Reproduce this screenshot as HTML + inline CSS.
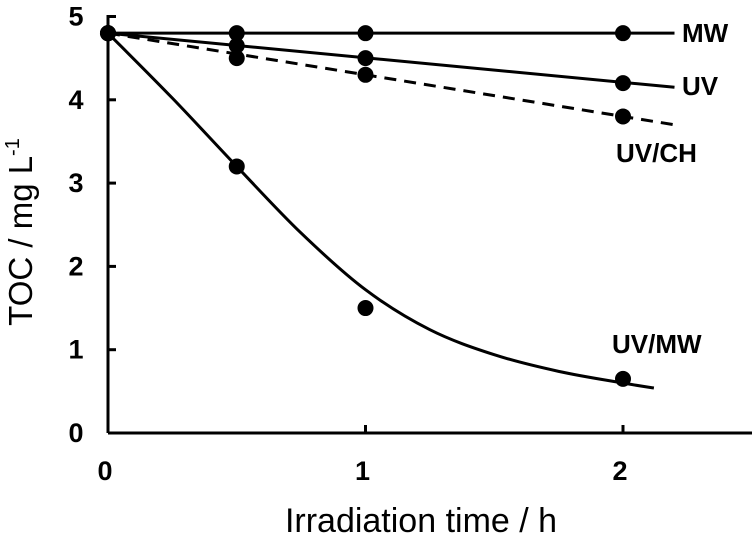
<!DOCTYPE html>
<html><head><meta charset="utf-8"><style>
html,body{margin:0;padding:0;background:#fff}
svg{display:block;font-family:"Liberation Sans",Arial,sans-serif}
</style></head><body>
<svg id="c" width="756" height="537" viewBox="0 0 756 537"></svg>
<script>
const xTicks=[0,1,2];
const yTicks=[0,1,2,3,4,5];
const ptX=[0,0.5,1,2];
const mwVals=[4.8,4.8,4.8,4.8];
const uvVals=[4.8,4.65,4.5,4.2];
const uvchVals=[4.8,4.5,4.3,3.8];
const uvmwVals=[4.8,3.2,1.5,0.65];
const fitLinX=[0,2.2];
const mwFit=[4.8,4.8];
const uvFit=[4.8,4.15];
const uvchFit=[4.8,3.7];
const uvmwFitX=[0,0.25,0.5,0.75,1,1.25,1.5,1.75,2,2.12];
const uvmwFit=[4.8,4.02,3.2,2.4,1.72,1.24,0.94,0.74,0.6,0.54];
const NS="http://www.w3.org/2000/svg";
const svg=document.getElementById('c');
const X=v=>108+v*257.5, Y=v=>433-v*83.3;
function el(t,a,p){const e=document.createElementNS(NS,t);for(const k in a)e.setAttribute(k,a[k]);(p||svg).appendChild(e);return e;}
let e;
e=el('line',{x1:108,y1:433,x2:752,y2:433,stroke:'#000','stroke-width':3});


e=el('line',{x1:108,y1:433,x2:108,y2:15,stroke:'#000','stroke-width':3});


xTicks.forEach(v=>{
 e=el('line',{x1:X(v),y1:433,x2:X(v),y2:425,stroke:'#000','stroke-width':3});
 
 
 e=el('text',{x:X(v)-3,y:480,'text-anchor':'middle','font-size':27,'font-weight':'bold'});e.textContent=v;
 
 
});
yTicks.forEach(v=>{
 e=el('line',{x1:108,y1:Y(v),x2:116,y2:Y(v),stroke:'#000','stroke-width':3});
 
 
 e=el('text',{x:76,y:Y(v)+9,'text-anchor':'middle','font-size':27,'font-weight':'bold'});e.textContent=v;
 
 
});
function line(xs,ys,name,dash){
 const d=xs.map((x,i)=>(i?'L':'M')+X(x)+','+Y(ys[i])).join(' ');
 const a={d:d,fill:'none',stroke:'#000','stroke-width':3};
 if(dash)a['stroke-dasharray']='12,8';
 e=el('path',a);
 
 
}
function smooth(xs,ys,name){
 let d='M'+X(xs[0])+','+Y(ys[0]);
 for(let i=0;i<xs.length-1;i++){
  const p0=i>0?i-1:i,p3=i+2<xs.length?i+2:i+1;
  const c1x=X(xs[i])+(X(xs[i+1])-X(xs[p0]))/6,c1y=Y(ys[i])+(Y(ys[i+1])-Y(ys[p0]))/6;
  const c2x=X(xs[i+1])-(X(xs[p3])-X(xs[i]))/6,c2y=Y(ys[i+1])-(Y(ys[p3])-Y(ys[i]))/6;
  d+=` C${c1x},${c1y} ${c2x},${c2y} ${X(xs[i+1])},${Y(ys[i+1])}`;
 }
 e=el('path',{d:d,fill:'none',stroke:'#000','stroke-width':3});
 
 
}
line(fitLinX,mwFit,'mw-fit-line');
line(fitLinX,uvFit,'uv-fit-line');
line(fitLinX,uvchFit,'uvch-fit-line',true);
smooth(uvmwFitX,uvmwFit,'uvmw-fit-curve');
function pts(vals,name){vals.forEach((v,i)=>{
 e=el('circle',{cx:X(ptX[i]),cy:Y(v),r:8,fill:'#000'});
 
 
});}
pts(mwVals,'mw-point');pts(uvVals,'uv-point');pts(uvchVals,'uvch-point');pts(uvmwVals,'uvmw-point');
function lab(t,x,y,name){e=el('text',{x:x,y:y,'font-size':26,'font-weight':'bold'});e.textContent=t;
 
 }
lab('MW',682,42,'mw-label');
lab('UV',682,95,'uv-label');
lab('UV/CH',616,162,'uvch-label');
lab('UV/MW',612,353,'uvmw-label');
e=el('text',{x:421,y:532,'text-anchor':'middle','font-size':34});e.textContent='Irradiation time / h';


e=el('text',{x:0,y:0,'text-anchor':'middle','font-size':33,transform:'translate(32,232) rotate(-90)'});
e.innerHTML='TOC / mg L<tspan font-size="20" dy="-13">-1</tspan>';


</script>
</body></html>
